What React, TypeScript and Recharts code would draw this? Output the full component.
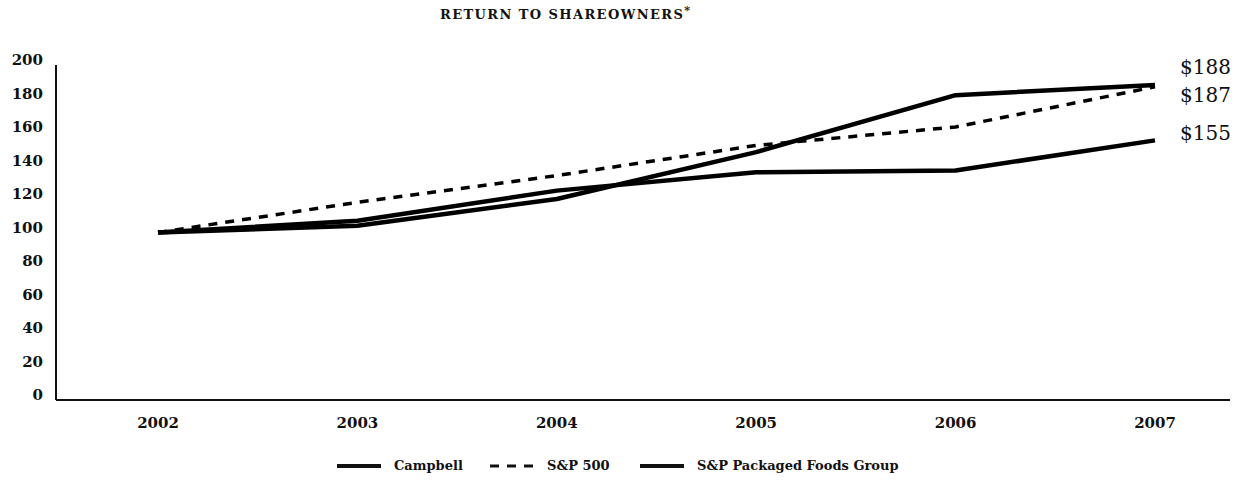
import { LineChart, Line, XAxis, YAxis, LabelList } from 'recharts';

const YEARS = ['2002', '2003', '2004', '2005', '2006', '2007'];
const CAMPBELL = [100, 104, 120, 148, 182, 188];
const SP500 = [100, 118, 134, 152, 163, 187];
const PACKAGED = [100, 107, 125, 136, 137, 155];
const Y_TICKS = [0, 20, 40, 60, 80, 100, 120, 140, 160, 180, 200];

const SERIES = [
  { key: 'campbell', name: 'Campbell', dash: undefined, labelDy: -18, legendWidth: 153 },
  { key: 'sp500', name: 'S&P 500', dash: '9 8', labelDy: 8, legendWidth: 150 },
  { key: 'packaged', name: 'S&P Packaged Foods Group', dash: undefined, labelDy: -7, legendWidth: undefined },
];

const data = YEARS.map((year, i) => ({
  year,
  campbell: CAMPBELL[i],
  sp500: SP500[i],
  packaged: PACKAGED[i],
}));

const FONT = '"DejaVu Serif", serif';

function YTick({ x, y, payload }: any) {
  return (
    <text x={x} y={y - 5} textAnchor="end" dominantBaseline="central" fontFamily={FONT} fontSize={15} fontWeight="bold" fill="#111">
      {payload.value}
    </text>
  );
}

function XTick({ x, y, payload }: any) {
  return (
    <text x={x} y={y + 21} textAnchor="middle" dominantBaseline="central" fontFamily={FONT} fontSize={15} fontWeight="bold" fill="#111">
      {payload.value}
    </text>
  );
}

function endLabel(dy: number) {
  return (props: any) => {
    const { x, y, value, index } = props;
    if (index !== YEARS.length - 1) return null;
    return (
      <text x={x + 25} y={y + dy} dominantBaseline="central" fontFamily={FONT} fontSize={20} fill="#111">
        ${value}
      </text>
    );
  };
}

function LegendRow() {
  return (
    <div
      style={{
        position: 'absolute',
        left: 337,
        top: 458,
        display: 'flex',
        alignItems: 'center',
        fontFamily: FONT,
        fontSize: 13,
        fontWeight: 'bold',
        color: '#111',
        whiteSpace: 'nowrap',
      }}
    >
      {SERIES.map((s) => (
        <div key={s.key} style={{ display: 'flex', alignItems: 'center', width: s.legendWidth }}>
          <svg width={44} height={8} style={{ marginRight: 13 }}>
            <line x1={0} y1={4} x2={44} y2={4} stroke="#111" strokeWidth={s.dash ? 3 : 4} strokeDasharray={s.dash ? '9 8' : undefined} />
          </svg>
          <span>{s.name}</span>
        </div>
      ))}
    </div>
  );
}

export default function App() {
  return (
    <div style={{ position: 'absolute', left: 0, top: 0, width: 1255, height: 481, background: '#fff' }}>
      <div
        style={{
          position: 'absolute',
          left: 440,
          top: 4,
          fontFamily: FONT,
          fontSize: 13,
          fontWeight: 'bold',
          letterSpacing: 1.4,
          color: '#111',
          whiteSpace: 'nowrap',
        }}
      >
        RETURN TO SHAREOWNERS<sup style={{ fontSize: 11 }}>*</sup>
      </div>
      <LineChart width={1255} height={481} data={data} margin={{ top: 65, right: 25, bottom: 51, left: 0 }}>
        <XAxis
          dataKey="year"
          padding={{ left: 102, right: 75 }}
          tickLine={false}
          tickSize={0}
          tick={<XTick />}
          axisLine={{ stroke: '#111', strokeWidth: 2 }}
          interval={0}
          height={30}
        />
        <YAxis
          width={56}
          domain={[0, 200]}
          ticks={Y_TICKS}
          tickLine={false}
          tickSize={0}
          tickMargin={13}
          tick={<YTick />}
          axisLine={{ stroke: '#111', strokeWidth: 2 }}
        />
        {SERIES.map((s) => (
          <Line
            key={s.key}
            dataKey={s.key}
            name={s.name}
            type="linear"
            stroke="#000"
            strokeWidth={s.dash ? 3.5 : 4.5}
            strokeDasharray={s.dash}
            strokeLinejoin="round"
            dot={false}
            activeDot={false}
            isAnimationActive={false}
          >
            <LabelList dataKey={s.key} content={endLabel(s.labelDy)} />
          </Line>
        ))}
      </LineChart>
      <LegendRow />
    </div>
  );
}
